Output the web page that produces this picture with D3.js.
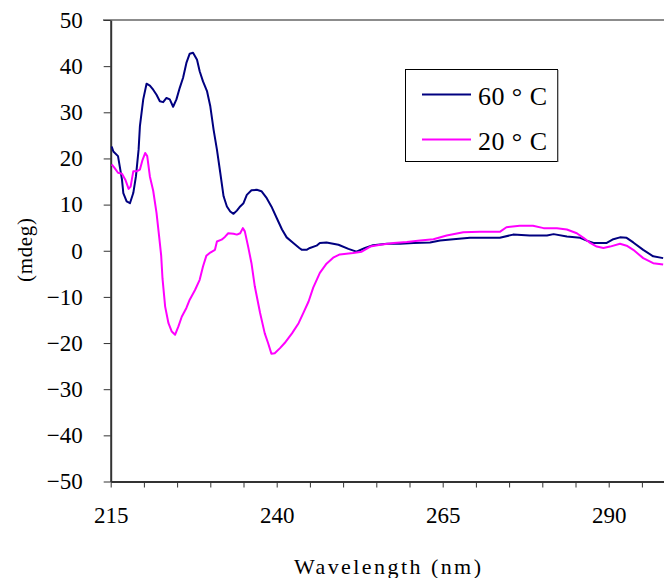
<!DOCTYPE html>
<html>
<head>
<meta charset="utf-8">
<script src="https://cdn.jsdelivr.net/npm/d3@7"></script>
<style>
  html, body { margin: 0; padding: 0; background: #fff; }
  svg { display: block; }
  .tick text { font-family: "Liberation Serif", serif; font-size: 23px; fill: #000; }
</style>
</head>
<body>
<svg id="chart" width="664" height="578"></svg>
<script>
// CD spectra, wavelength (nm) vs ellipticity (mdeg)
const wl60 = [215.15,215.4,216.1,216.7,216.9,217.4,217.9,218.4,218.8,219.2,219.4,219.9,220.4,220.9,221.4,221.9,222.4,222.9,223.4,223.9,224.4,224.9,225.4,225.9,226.4,226.9,227.4,228.0,228.4,228.9,229.5,230.0,230.5,231.0,231.5,232.0,232.5,233.0,233.5,234.0,234.5,235.0,235.5,236.2,237.0,237.7,238.5,239.2,240.0,240.8,241.5,242.5,243.4,243.8,244.5,245.0,246.0,246.5,247.5,249.3,250.8,252.0,253.3,254.5,256.6,258.6,260.6,263.1,264.6,266.6,269.1,271.6,273.6,275.6,278.1,280.7,281.7,283.7,285.7,286.7,287.7,289.7,290.7,291.7,292.7,293.7,295.2,296.7,298.2];
const mdeg60 = [22.6,21.5,20.5,15.4,12.5,10.7,10.3,12.5,16.1,21.9,27.0,32.8,36.2,35.8,34.9,33.8,32.4,32.2,33.1,32.8,31.2,32.8,35.3,37.5,40.7,42.7,42.9,41.4,38.9,36.7,34.6,31.3,26.2,21.9,16.9,11.8,9.6,8.5,8.0,8.7,9.6,10.3,12.1,13.1,13.2,12.9,11.4,9.6,7.1,4.6,2.9,1.7,0.6,0.2,0.2,0.6,1.1,1.7,1.8,1.3,0.4,-0.2,0.6,1.2,1.5,1.5,1.7,1.8,2.2,2.5,2.8,2.8,2.8,3.5,3.3,3.3,3.6,3.1,2.8,2.2,1.7,1.7,2.5,2.9,2.8,1.8,0.2,-1.2,-1.6];

const wl20 = [215.15,215.6,216.1,216.7,217.2,217.7,218.0,218.4,218.9,219.4,219.8,220.2,220.5,220.9,221.4,221.9,222.3,222.6,222.8,223.2,223.7,224.2,224.7,225.2,225.7,226.4,226.9,227.7,228.4,228.9,229.4,230.0,230.7,231.0,231.7,232.2,232.7,233.5,234.0,234.5,234.9,235.2,235.7,236.2,236.7,237.5,238.2,238.7,239.2,239.7,240.5,241.2,242.3,243.3,244.0,244.8,245.5,246.5,247.5,248.5,249.5,251.5,252.8,254.1,255.6,257.6,259.6,261.6,263.6,265.6,268.1,270.6,273.6,274.6,276.6,278.6,280.2,282.2,283.7,285.2,286.2,287.2,288.2,289.2,290.2,291.7,292.7,293.7,295.2,296.7,298.2];
const mdeg20 = [18.7,17.9,16.9,16.7,15.4,13.4,13.9,17.2,17.2,17.6,19.7,21.2,20.5,16.1,13.0,8.2,3.0,-1.0,-6.0,-12.1,-15.7,-17.5,-18.2,-16.4,-14.3,-12.4,-10.6,-8.5,-6.3,-3.4,-1.1,-0.4,0.2,2.0,2.4,3.0,3.8,3.7,3.5,3.8,4.9,4.2,0.9,-2.7,-7.7,-13.5,-17.9,-20.0,-22.3,-22.2,-21.1,-20.0,-17.9,-15.7,-13.5,-11.0,-8.0,-4.8,-2.8,-1.5,-0.8,-0.5,-0.2,0.9,1.3,1.7,1.9,2.2,2.5,3.3,4.0,4.1,4.1,5.1,5.4,5.4,4.9,4.9,4.6,3.8,2.8,1.7,0.9,0.6,0.9,1.5,1.1,0.2,-1.6,-2.7,-3.0];

const seriesNames = ["60 \u00b0 C", "20 \u00b0 C"];
const seriesColors = ["#000080", "#ff00ff"];
const yTicks = d3.range(-50, 51, 10);
const xTicks = d3.range(215, 301, 5);
const xLabels = [215, 240, 265, 290];

const svg = d3.select('#chart');

const x = d3.scaleLinear().domain([215, 300]).range([110.7, 675.1]);
const y = d3.scaleLinear().domain([-50, 50]).range([481.5, 20]);

// top border of plot area
svg.append('line')
    .attr('x1', 103).attr('x2', 664)
    .attr('y1', y(50)).attr('y2', y(50))
    .attr('stroke', '#8c8c8c').attr('stroke-width', 2);

const yAxis = svg.append('g')
    .attr('transform', `translate(${x(215)},0)`)
    .call(d3.axisLeft(y).tickValues(yTicks).tickSize(7).tickSizeOuter(0).tickPadding(21));
yAxis.select('.domain').attr('stroke', '#333').attr('stroke-width', 2);
yAxis.selectAll('.tick line').attr('stroke', '#333');

const xAxis = svg.append('g')
    .attr('transform', `translate(0,${y(-50)})`)
    .call(d3.axisBottom(x).tickValues(xTicks).tickSize(6).tickSizeOuter(0).tickPadding(19)
        .tickFormat(d => xLabels.includes(d) ? d : ''));
xAxis.select('.domain').attr('stroke', '#333').attr('stroke-width', 2);
xAxis.selectAll('.tick line').attr('stroke', '#333');

const line = d3.line().x(d => x(d[0])).y(d => y(d[1]));

const series = [
    d3.zip(wl60, mdeg60),
    d3.zip(wl20, mdeg20)
];

svg.selectAll('path.series')
    .data(series)
    .join('path')
    .attr('class', 'series')
    .attr('fill', 'none')
    .attr('stroke', (d, i) => seriesColors[i])
    .attr('stroke-width', 2)
    .attr('stroke-linejoin', 'round')
    .attr('d', line);

// legend
const legend = svg.append('g');
legend.append('rect')
    .attr('x', 405.5).attr('y', 69.5).attr('width', 152).attr('height', 92)
    .attr('fill', '#fff').attr('stroke', '#000').attr('stroke-width', 1);
legend.append('line')
    .attr('x1', 558).attr('x2', 558).attr('y1', 70).attr('y2', 162)
    .attr('stroke', '#777').attr('stroke-width', 1);
const rows = legend.selectAll('g.row')
    .data(seriesNames)
    .join('g')
    .attr('class', 'row')
    .attr('transform', (d, i) => `translate(0,${94.5 + i * 45})`);
rows.append('line')
    .attr('x1', 422).attr('x2', 471)
    .attr('stroke', (d, i) => seriesColors[i]).attr('stroke-width', 2);
rows.append('text')
    .attr('x', 478).attr('y', 10.5)
    .attr('font-family', '"Liberation Serif", serif').attr('font-size', 26)
    .attr('textLength', 69).attr('lengthAdjust', 'spacing')
    .text(d => d);

// axis titles
svg.append('text')
    .attr('x', 294).attr('y', 574)
    .attr('font-family', '"Liberation Serif", serif').attr('font-size', 22)
    .attr('textLength', 187).attr('lengthAdjust', 'spacing')
    .text('Wavelength (nm)');

svg.append('text')
    .attr('transform', 'translate(32,250) rotate(-90)')
    .attr('text-anchor', 'middle')
    .attr('font-family', '"Liberation Serif", serif').attr('font-size', 21)
    .attr('textLength', 64).attr('lengthAdjust', 'spacing')
    .text('(mdeg)');
</script>
</body>
</html>
